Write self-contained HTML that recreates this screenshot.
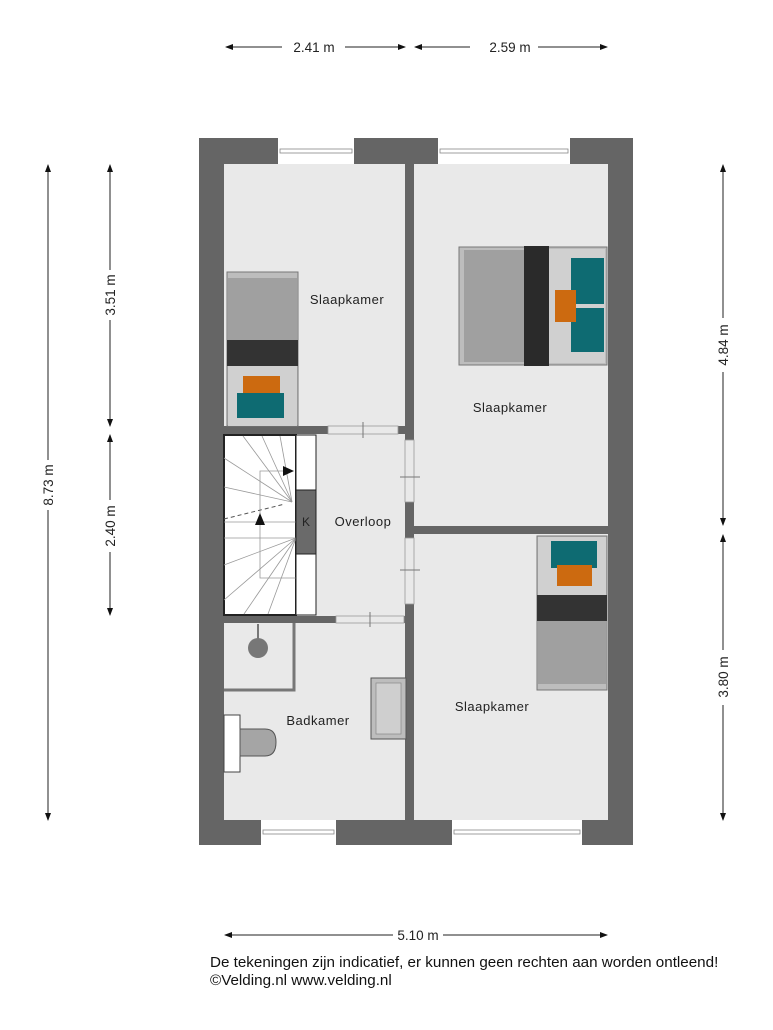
<!DOCTYPE html>
<html><head><style>
body{margin:0;background:#fff;}
svg{display:block;font-family:"Liberation Sans",Arial,sans-serif;}
</style></head><body>
<svg width="773" height="1030" viewBox="0 0 773 1030" xmlns="http://www.w3.org/2000/svg">
<defs>
<marker id="a" markerWidth="8" markerHeight="6" refX="7" refY="3" orient="auto"><path d="M0,0 L8,3 L0,6z" fill="#111"/></marker>
</defs>
<rect x="199" y="138" width="434" height="707" fill="#656565"/>
<g fill="#e9e9e9">
<rect x="224" y="164" width="181" height="262"/>
<rect x="414" y="164" width="194" height="362"/>
<rect x="224" y="434" width="181" height="182"/>
<rect x="414" y="534" width="194" height="286"/>
<rect x="224" y="623" width="181" height="197"/>
</g>
<g fill="#fff" stroke="#888" stroke-width="0.8">
<rect x="278" y="138" width="76" height="26" stroke="none"/>
<rect x="438" y="138" width="132" height="26" stroke="none"/>
<rect x="261" y="820" width="75" height="25" stroke="none"/>
<rect x="452" y="820" width="130" height="25" stroke="none"/>
<rect x="280" y="149" width="72" height="4" fill="none"/>
<rect x="440" y="149" width="128" height="4" fill="none"/>
<rect x="263" y="830" width="71" height="4" fill="none"/>
<rect x="454" y="830" width="126" height="4" fill="none"/>
</g>
<g fill="#e9e9e9" stroke="#999" stroke-width="0.8">
<rect x="328" y="426" width="70" height="8"/>
<rect x="336" y="616" width="68" height="7"/>
<rect x="405" y="440" width="9" height="62"/>
<rect x="405" y="538" width="9" height="66"/>
</g>
<g stroke="#777" stroke-width="1">
<line x1="363" y1="422" x2="363" y2="438"/>
<line x1="370" y1="612" x2="370" y2="627"/>
<line x1="400" y1="477" x2="420" y2="477"/>
<line x1="400" y1="570" x2="420" y2="570"/>
</g>
<rect x="224" y="435" width="72" height="180" fill="#fff" stroke="#222" stroke-width="2"/>
<g stroke="#999" stroke-width="0.8">
<line x1="292" y1="502" x2="243" y2="436"/>
<line x1="292" y1="502" x2="262" y2="436"/>
<line x1="292" y1="502" x2="224" y2="458"/>
<line x1="292" y1="502" x2="224" y2="487"/>
<line x1="292" y1="502" x2="280" y2="436"/>
<line x1="224" y1="522" x2="296" y2="522"/>
<line x1="224" y1="538" x2="296" y2="538"/>
<line x1="296" y1="538" x2="224" y2="565"/>
<line x1="296" y1="538" x2="224" y2="600"/>
<line x1="296" y1="538" x2="244" y2="614"/>
<line x1="296" y1="538" x2="268" y2="614"/>
<polyline points="296,578 260,578 260,471 290,471" fill="none"/>
</g>
<line x1="224" y1="519" x2="285" y2="504" stroke="#555" stroke-width="1" stroke-dasharray="4,3"/>
<path d="M283,466 L294,471 L283,476z" fill="#111"/>
<path d="M255,525 L260,513 L265,525z" fill="#111"/>
<rect x="296" y="435" width="20" height="55" fill="#fff" stroke="#222" stroke-width="1"/>
<rect x="296" y="490" width="20" height="64" fill="#6a6a6a" stroke="#222" stroke-width="1"/>
<rect x="296" y="554" width="20" height="61" fill="#fff" stroke="#222" stroke-width="1"/>
<text x="306" y="526" font-size="12" text-anchor="middle" fill="#222">K</text>
<g>
<rect x="227" y="272" width="71" height="154" fill="#bdbdbd" stroke="#777"/>
<rect x="228" y="278" width="69" height="62" fill="#a0a0a0"/>
<rect x="227" y="340" width="71" height="26" fill="#333"/>
<rect x="228" y="366" width="69" height="60" fill="#d0d0d0"/>
<rect x="243" y="376" width="37" height="20" fill="#cc6a10"/>
<rect x="237" y="393" width="47" height="25" fill="#0e6b72"/>
<rect x="459" y="247" width="148" height="118" fill="#bdbdbd" stroke="#777"/>
<rect x="464" y="250" width="60" height="112" fill="#a0a0a0"/>
<rect x="524" y="246" width="25" height="120" fill="#2a2a2a"/>
<rect x="549" y="249" width="56" height="114" fill="#d0d0d0"/>
<rect x="571" y="258" width="33" height="46" fill="#0e6b72"/>
<rect x="571" y="308" width="33" height="44" fill="#0e6b72"/>
<rect x="555" y="290" width="21" height="32" fill="#cc6a10"/>
<rect x="537" y="536" width="70" height="154" fill="#bdbdbd" stroke="#777"/>
<rect x="538" y="537" width="68" height="58" fill="#d0d0d0"/>
<rect x="551" y="541" width="46" height="27" fill="#0e6b72"/>
<rect x="557" y="565" width="35" height="21" fill="#cc6a10"/>
<rect x="537" y="595" width="70" height="26" fill="#333"/>
<rect x="538" y="621" width="68" height="63" fill="#a0a0a0"/>
</g>
<polyline points="224,690 294,690 294,623" fill="none" stroke="#777" stroke-width="3"/>
<line x1="258" y1="624" x2="258" y2="640" stroke="#777" stroke-width="2"/>
<circle cx="258" cy="648" r="10" fill="#777"/>
<rect x="224" y="715" width="16" height="57" fill="#fff" stroke="#444"/>
<path d="M240,729 L265,729 Q276,729 276,742 Q276,756 265,756 L240,756z" fill="#a5a5a5" stroke="#555"/>
<rect x="371" y="678" width="35" height="61" fill="#bdbdbd" stroke="#555"/>
<rect x="376" y="683" width="25" height="51" fill="#cfcfcf" stroke="#888" stroke-width="0.7"/>
<g font-size="13" fill="#222" text-anchor="middle" letter-spacing="0.5">
<text x="347" y="304">Slaapkamer</text>
<text x="510" y="412">Slaapkamer</text>
<text x="363" y="526">Overloop</text>
<text x="318" y="725">Badkamer</text>
<text x="492" y="711">Slaapkamer</text>
</g>
<g stroke="#222" stroke-width="1" fill="none">
<line x1="282" y1="47" x2="226" y2="47" marker-end="url(#a)"/>
<line x1="345" y1="47" x2="405" y2="47" marker-end="url(#a)"/>
<line x1="470" y1="47" x2="415" y2="47" marker-end="url(#a)"/>
<line x1="538" y1="47" x2="607" y2="47" marker-end="url(#a)"/>
<line x1="393" y1="935" x2="225" y2="935" marker-end="url(#a)"/>
<line x1="443" y1="935" x2="607" y2="935" marker-end="url(#a)"/>
<line x1="48" y1="460" x2="48" y2="165" marker-end="url(#a)"/>
<line x1="48" y1="510" x2="48" y2="820" marker-end="url(#a)"/>
<line x1="110" y1="270" x2="110" y2="165" marker-end="url(#a)"/>
<line x1="110" y1="320" x2="110" y2="426" marker-end="url(#a)"/>
<line x1="110" y1="500" x2="110" y2="435" marker-end="url(#a)"/>
<line x1="110" y1="552" x2="110" y2="615" marker-end="url(#a)"/>
<line x1="723" y1="318" x2="723" y2="165" marker-end="url(#a)"/>
<line x1="723" y1="372" x2="723" y2="525" marker-end="url(#a)"/>
<line x1="723" y1="650" x2="723" y2="535" marker-end="url(#a)"/>
<line x1="723" y1="705" x2="723" y2="820" marker-end="url(#a)"/>
</g>
<g font-size="13.5" fill="#222" text-anchor="middle">
<text x="314" y="52">2.41 m</text>
<text x="510" y="52">2.59 m</text>
<text x="418" y="940">5.10 m</text>
<text transform="translate(53,485) rotate(-90)">8.73 m</text>
<text transform="translate(115,295) rotate(-90)">3.51 m</text>
<text transform="translate(115,526) rotate(-90)">2.40 m</text>
<text transform="translate(728,345) rotate(-90)">4.84 m</text>
<text transform="translate(728,677) rotate(-90)">3.80 m</text>
</g>
<g font-size="15.2" fill="#111">
<text x="210" y="967">De tekeningen zijn indicatief, er kunnen geen rechten aan worden ontleend!</text>
<text x="210" y="985">©Velding.nl www.velding.nl</text>
</g>
</svg>
</body></html>
